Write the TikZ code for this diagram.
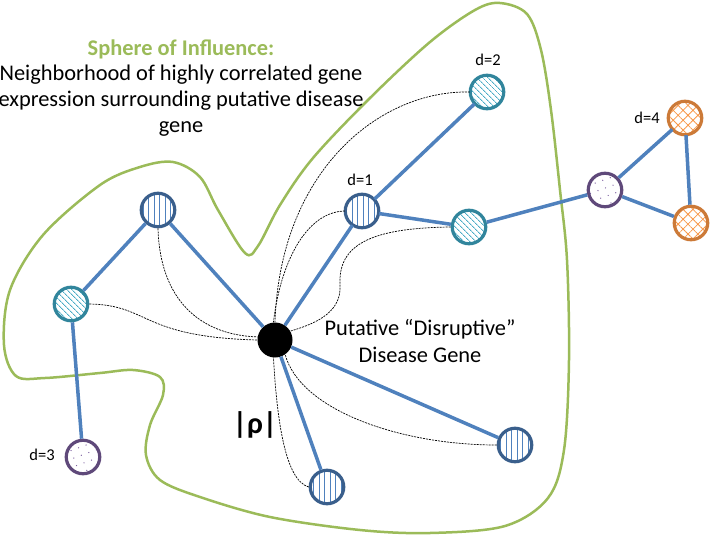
\documentclass[tikz,border=0pt]{standalone}
\usepackage{fontspec}
\setmainfont{Carlito}
\usetikzlibrary{patterns.meta}
\definecolor{blobgreen}{HTML}{9BBB59}
\definecolor{edgeblue}{HTML}{4F81BD}
\definecolor{darkblue}{HTML}{3A5F8C}
\definecolor{tealborder}{HTML}{31859C}
\definecolor{tealfill}{HTML}{4BACC6}
\definecolor{purpborder}{HTML}{5F497A}
\definecolor{purpfill}{HTML}{8064A2}
\definecolor{orborder}{HTML}{CC7A38}
\definecolor{orfill}{HTML}{F79646}
\begin{document}
\begin{tikzpicture}[x=1pt,y=-1pt,
  gnode/.style={circle,inner sep=0pt,minimum size=33.5pt,line width=3.2pt},
  vnode/.style={gnode,draw=darkblue,pattern={Lines[angle=90,distance=5.5pt,line width=1pt]},pattern color=edgeblue},
  tnode/.style={gnode,draw=tealborder,pattern={Lines[angle=-45,distance=4pt,line width=1pt]},pattern color=tealfill},
  pnode/.style={gnode,draw=purpborder,pattern={Dots[angle=20,distance=8pt,radius=0.7pt]},pattern color=purpfill},
  onode/.style={gnode,draw=orborder,pattern={Hatch[angle=45,distance=7pt,line width=0.8pt]},pattern color=orfill},
  blueline/.style={draw=edgeblue,line width=3.5pt},
  dashline/.style={draw=black,line width=0.7pt,dash pattern=on 2pt off 1pt},
  dlabel/.style={font=\fontsize{16.5}{19}\selectfont,inner sep=0pt}]
\useasboundingbox (0,0) rectangle (710,536);

% sphere of influence outline
\draw[blobgreen,line width=2.5pt] plot[smooth cycle,tension=0.55] coordinates {
 (500,3) (527,14) (541,50) (551,110) (560,190) (567,260) (569,360) (564,450)
 (548,498) (505,526) (430,533) (360,530) (270,517) (200,497) (160,480)
 (146,455) (150,425) (163,395) (160,377) (133,370) (100,373) (45,378)
 (16,376) (4,345) (10,290) (43,235) (100,185) (140,167) (173,162) (200,177)
 (218,210) (245,253) (258,246) (280,205) (313,158) (370,98) (430,42) (475,10)};

% nodes
\node[fill=black,circle,inner sep=0pt,minimum size=35pt] (c) at (275,340) {};
\node[vnode] (d1) at (362,211) {};
\node[tnode] (d2) at (487,92) {};
\node[tnode] (tm) at (469,227) {};
\node[pnode] (pr) at (605,190) {};
\node[onode] (ot) at (685,118) {};
\node[onode] (ob) at (691,223) {};
\node[vnode] (lb) at (158,210) {};
\node[tnode] (lt) at (71,304) {};
\node[pnode] (d3) at (83,457) {};
\node[vnode] (bt) at (327,487) {};
\node[vnode] (rb) at (515,445) {};

% blue edges
\draw[blueline] (c) -- (d1);
\draw[blueline] (d1) -- (d2);
\draw[blueline] (d1) -- (tm);
\draw[blueline] (tm) -- (pr);
\draw[blueline] (pr) -- (ot);
\draw[blueline] (pr) -- (ob);
\draw[blueline] (ot) -- (ob);
\draw[blueline] (c) -- (lb);
\draw[blueline] (lb) -- (lt);
\draw[blueline] (lt) -- (d3);
\draw[blueline] (c) -- (bt);
\draw[blueline] (c) -- (rb);

% correlation curves
\draw[dashline] (lt.east) .. controls (150,305) and (140,337) .. (c.west);
\draw[dashline] (lb.south) .. controls (160,300) and (200,335) .. (c.170);
\draw[dashline] (d1.west) .. controls (305,212) and (280,265) .. (c.95);
\draw[dashline] (d2.west) .. controls (380,90) and (280,170) .. (c.90);
\draw[dashline] (tm.west) .. controls (370,228) and (338,245) .. (340,285)
  .. controls (342,315) and (310,325) .. (c.30);
\draw[dashline] (bt.west) .. controls (285,480) and (277,420) .. (c.-95);
\draw[dashline] (rb.west) .. controls (400,445) and (300,410) .. (c.-55);

% labels
\node[font=\fontsize{22.4}{26}\selectfont\bfseries,text=blobgreen,inner sep=0pt] (title) at (181,49) {Sphere of Influence:};
\node[font=\fontsize{22.4}{26}\selectfont,align=center,inner sep=0pt] (desc) at (181,101)
  {Neighborhood of highly correlated gene\\expression surrounding putative disease\\gene};
\node[font=\fontsize{22.4}{27}\selectfont,align=center,inner sep=0pt] (put) at (420,341)
  {Putative “Disruptive”\\Disease Gene};
\node[font=\fontsize{30}{32}\selectfont\bfseries,inner sep=0pt] (rho) at (255,425) {|ρ|};
\node[dlabel] (l1) at (360,180) {d=1};
\node[dlabel] (l2) at (488,60) {d=2};
\node[dlabel] (l3) at (42,455) {d=3};
\node[dlabel] (l4) at (647,118) {d=4};
\end{tikzpicture}
\end{document}
